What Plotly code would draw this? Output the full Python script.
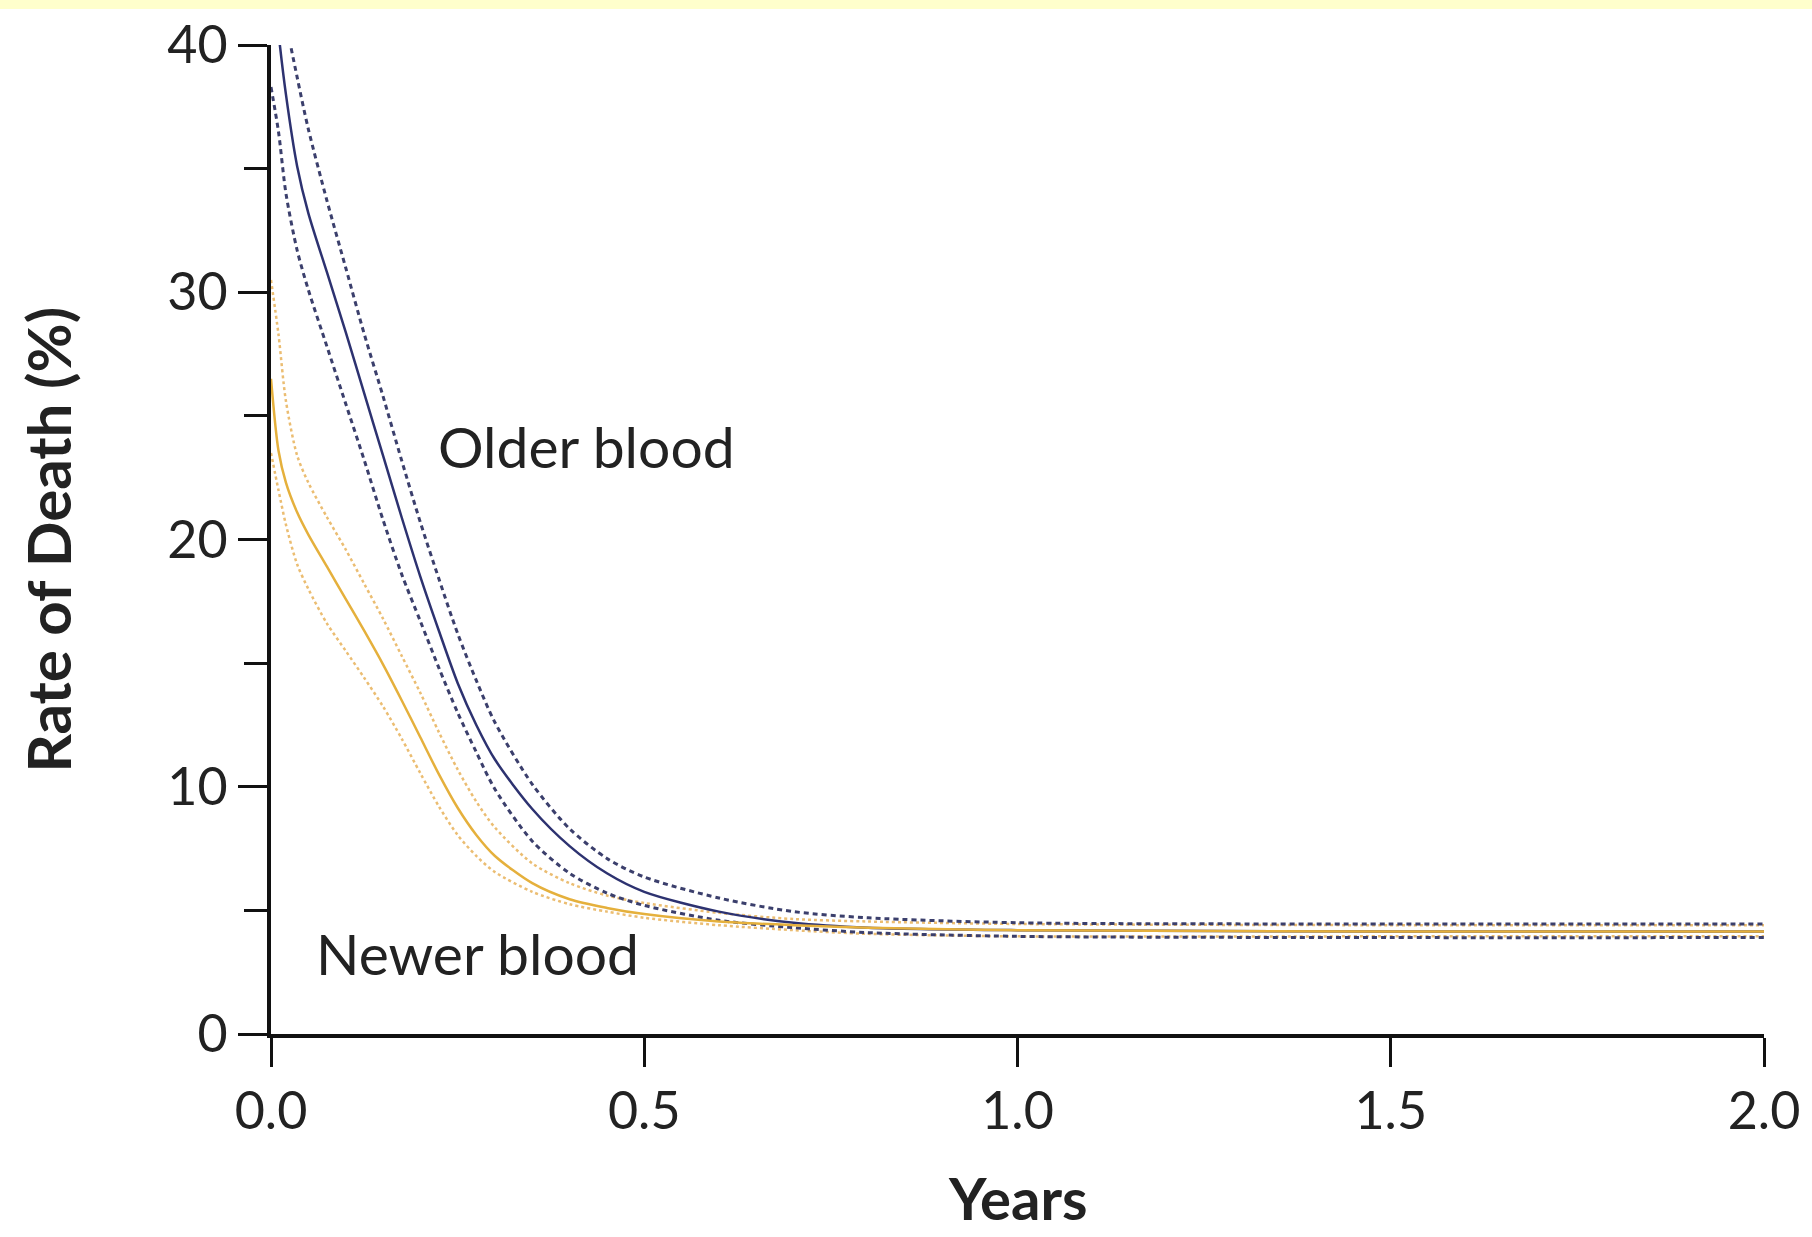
import plotly.graph_objects as go

# Follow-up time (years) shared by every curve
years = [0.0, 0.01, 0.02, 0.035, 0.05, 0.075, 0.1, 0.125, 0.15, 0.175, 0.2, 0.225,
         0.25, 0.275, 0.3, 0.35, 0.4, 0.45, 0.5, 0.6, 0.7, 0.8, 1.0, 1.5, 2.0]

# Rate of death (%) — older blood, estimate with 95% confidence bounds
older_est = [43.5, 40.5, 38.0, 35.1, 33.2, 30.8, 28.4, 25.9, 23.4, 20.9, 18.5, 16.3,
             14.2, 12.5, 11.1, 9.1, 7.6, 6.5, 5.75, 4.95, 4.5, 4.3, 4.2, 4.15, 4.15]
older_upper = [46.0, 43.5, 41.0, 38.7, 36.6, 33.7, 31.0, 28.3, 25.8, 23.2, 20.7, 18.4,
               16.2, 14.3, 12.6, 10.1, 8.3, 7.1, 6.35, 5.5, 4.95, 4.7, 4.5, 4.45, 4.45]
older_lower = [38.3, 36.5, 34.0, 31.7, 30.1, 27.8, 25.5, 23.2, 20.8, 18.6, 16.7, 14.8,
               13.0, 11.4, 9.9, 7.8, 6.5, 5.7, 5.2, 4.6, 4.3, 4.1, 3.95, 3.9, 3.9]

# Rate of death (%) — newer blood, estimate with 95% confidence bounds
newer_est = [26.5, 23.6, 22.3, 21.1, 20.2, 18.9, 17.6, 16.3, 14.95, 13.5, 12.0, 10.5,
             9.15, 8.05, 7.2, 6.1, 5.45, 5.1, 4.85, 4.55, 4.4, 4.3, 4.2, 4.15, 4.15]
newer_upper = [30.5, 28.3, 25.6, 23.4, 22.3, 20.9, 19.6, 18.2, 16.8, 15.3, 13.8, 12.2,
               10.7, 9.4, 8.35, 6.9, 6.1, 5.6, 5.3, 4.9, 4.65, 4.55, 4.45, 4.4, 4.4]
newer_lower = [23.5, 22.0, 20.6, 19.0, 18.0, 16.6, 15.5, 14.4, 13.25, 11.95, 10.55, 9.2,
               8.05, 7.2, 6.55, 5.75, 5.25, 4.95, 4.7, 4.4, 4.2, 4.05, 3.95, 3.95, 3.95]

x_ticks = [0.0, 0.5, 1.0, 1.5, 2.0]
y_ticks = [0, 10, 20, 30, 40]

NAVY = "#2d3270"
NAVY_CI = "#3b3f6c"
GOLD = "#e5b03c"
GOLD_CI = "#ebbd72"
TEXT = "#222222"
FONT = "Lato"

fig = go.Figure()

# confidence bounds
for ys in (newer_upper, newer_lower):
    fig.add_trace(go.Scatter(x=years, y=ys, mode="lines",
                             line=dict(color=GOLD_CI, width=2.5, dash="dot",
                                       shape="spline", smoothing=0.8),
                             hoverinfo="skip"))
for ys in (older_upper, older_lower):
    fig.add_trace(go.Scatter(x=years, y=ys, mode="lines",
                             line=dict(color=NAVY_CI, width=3, dash="5px,4px",
                                       shape="spline", smoothing=0.8),
                             hoverinfo="skip"))

# point estimates
fig.add_trace(go.Scatter(x=years, y=older_est, mode="lines", name="Older blood",
                         line=dict(color=NAVY, width=2.5, shape="spline", smoothing=0.8)))
fig.add_trace(go.Scatter(x=years, y=newer_est, mode="lines", name="Newer blood",
                         line=dict(color=GOLD, width=2.5, shape="spline", smoothing=0.8)))

fig.update_layout(
    width=1812, height=1237,
    margin=dict(l=271, r=44, t=43, b=203),
    paper_bgcolor="white", plot_bgcolor="white",
    showlegend=False,
    font=dict(family=FONT, color=TEXT),
    xaxis=dict(range=[0, 2], tickvals=x_ticks, ticktext=[f"{v:.1f}" for v in x_ticks],
               showgrid=False, zeroline=False, showline=True, linecolor="#111111",
               linewidth=4, ticks="outside", ticklen=29, tickwidth=3, tickcolor="#111111",
               tickfont=dict(size=52, family=FONT, color=TEXT)),
    yaxis=dict(range=[0, 40], tickvals=y_ticks, showgrid=False, zeroline=False,
               showline=True, linecolor="#111111", linewidth=4, ticks="outside",
               ticklen=29, tickwidth=3, tickcolor="#111111",
               tickfont=dict(size=52, family=FONT, color=TEXT),
               minor=dict(tickvals=[5, 15, 25, 35], ticks="outside", ticklen=23,
                          tickwidth=3, tickcolor="#111111", showgrid=False)),
)

# axis titles
fig.add_annotation(text="<b>Rate of Death (%)</b>", xref="paper", yref="paper",
                   x=-0.15, y=0.5, textangle=-90, showarrow=False,
                   font=dict(size=60, family=FONT, color=TEXT),
                   xanchor="center", yanchor="middle")
fig.add_annotation(text="<b>Years</b>", xref="paper", yref="paper",
                   x=0.5, y=-0.1655, showarrow=False,
                   font=dict(size=58, family=FONT, color=TEXT),
                   xanchor="center", yanchor="middle")

# curve labels
fig.add_annotation(text="Older blood", x=0.221, y=23.8, showarrow=False,
                   xanchor="left", yanchor="middle",
                   font=dict(size=57, family=FONT, color=TEXT))
fig.add_annotation(text="Newer blood", x=0.057, y=3.27, showarrow=False,
                   xanchor="left", yanchor="middle",
                   font=dict(size=57, family=FONT, color=TEXT))

# pale yellow strip along the top edge
fig.add_shape(type="rect", xref="paper", yref="paper",
              x0=-0.2, x1=1.05, y0=1.0363, y1=1.05,
              fillcolor="#ffffcc", line=dict(width=0), layer="below")

fig.write_html("out.html")
